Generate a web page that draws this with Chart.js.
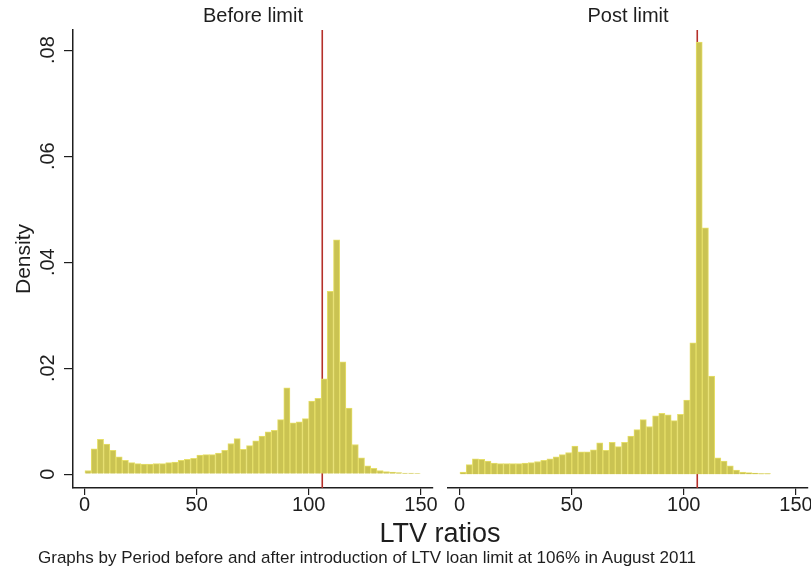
<!DOCTYPE html>
<html lang="en">
<head>
  <meta charset="UTF-8">
  <title>LTV ratios before and after the loan limit</title>
  <style>
    body {
      margin: 0;
      background: #fff;
      font-family: 'Liberation Sans', Arial, sans-serif;
      color: #1e1e1e;
    }
    .wrap {
      position: relative;
      width: 811px;
      height: 571px;
      overflow: hidden;
    }
    #beforeChart { position: absolute; left: 0; top: 0; }
    #postChart { position: absolute; left: 441px; top: 0; }
    .x-title {
      position: absolute;
      left: 0;
      width: 880px;
      top: 518px;
      line-height: 30px;
      text-align: center;
      font-size: 27px;
    }
    .note {
      position: absolute;
      left: 38px;
      top: 548px;
      line-height: 19px;
      font-size: 17px;
    }
  </style>
  <script src="https://cdn.jsdelivr.net/npm/chart.js"></script>
</head>
<body>
  <div class="wrap">
    <canvas id="beforeChart" width="441" height="530"></canvas>
    <canvas id="postChart" width="370" height="530"></canvas>
    <div class="x-title">LTV ratios</div>
    <div class="note">Graphs by Period before and after introduction of LTV loan limit at 106% in August 2011</div>
  </div>

  <script>
    // histogram bins (LTV %), same bins for both periods
    const binStart = 0.2;
    const binWidth = 2.77;

    const beforeDensity = [
      0.0007, 0.0048, 0.0066, 0.0057, 0.0045, 0.0033, 0.0026, 0.0022, 0.0020, 0.0019,
      0.0019, 0.0020, 0.0020, 0.0022, 0.0023, 0.0026, 0.0028, 0.0030, 0.0036, 0.0037,
      0.0037, 0.0040, 0.0045, 0.0058, 0.0067, 0.0047, 0.0054, 0.0063, 0.0072, 0.0080,
      0.0083, 0.0103, 0.0163, 0.0097, 0.0099, 0.0105, 0.0138, 0.0143, 0.0180, 0.0345,
      0.0442, 0.0212, 0.0125, 0.0056, 0.0031, 0.0016, 0.0011, 0.0007, 0.0005, 0.0004,
      0.0003, 0.0002, 0.0002, 0.0001
    ];

    const postDensity = [
      0.0004, 0.0018, 0.0029, 0.0028, 0.0025, 0.0021, 0.0020, 0.0020, 0.0020, 0.0020,
      0.0021, 0.0022, 0.0024, 0.0026, 0.0029, 0.0033, 0.0037, 0.0041, 0.0053, 0.0042,
      0.0042, 0.0046, 0.0059, 0.0045, 0.0060, 0.0052, 0.0060, 0.0072, 0.0084, 0.0103,
      0.0090, 0.0110, 0.0115, 0.0112, 0.0101, 0.0113, 0.0140, 0.0248, 0.0815, 0.0465,
      0.0185, 0.0031, 0.0025, 0.0016, 0.0008, 0.0004, 0.0003, 0.0002, 0.0001, 0.0001,
      0, 0, 0, 0
    ];

    const xTicks = [0, 50, 100, 150];
    const yTicks = [0, 0.02, 0.04, 0.06, 0.08];
    const yTickLabels = ['0', '.02', '.04', '.06', '.08'];
    const ltvLimit = 106;

    const FONT = "'Liberation Sans', Arial, sans-serif";
    const INK = '#1e1e1e';

    function toPoints(density) {
      return density.map((d, i) => ({ x: binStart + binWidth * (i + 0.5), y: d }));
    }

    // limit line behind the bars, panel title and rotated y labels on top
    const panelDecor = {
      id: 'panelDecor',
      beforeDatasetsDraw(chart) {
        const { ctx, chartArea, scales } = chart;
        const x = scales.x.getPixelForValue(ltvLimit);
        ctx.save();
        ctx.strokeStyle = '#b5302a';
        ctx.lineWidth = 1.6;
        ctx.beginPath();
        ctx.moveTo(x, chartArea.top);
        ctx.lineTo(x, chartArea.bottom);
        ctx.stroke();
        ctx.restore();
      },
      afterDraw(chart, args, opts) {
        const { ctx, chartArea, scales } = chart;
        ctx.save();
        ctx.fillStyle = INK;
        ctx.font = '20px ' + FONT;
        ctx.textAlign = 'center';
        ctx.textBaseline = 'middle';
        ctx.fillText(opts.title, (chartArea.left + chartArea.right) / 2, 16);

        if (opts.yLabels) {
          yTicks.forEach((v, i) => {
            const y = scales.y.getPixelForValue(v);
            ctx.save();
            ctx.translate(48, y);
            ctx.rotate(-Math.PI / 2);
            ctx.fillText(yTickLabels[i], 0, 0);
            ctx.restore();
          });
        }
        ctx.restore();
      }
    };

    function makeChart(id, title, density, showY) {
      const ctx = document.getElementById(id).getContext('2d');
      return new Chart(ctx, {
        type: 'bar',
        data: {
          datasets: [{
            data: toPoints(density),
            backgroundColor: '#cac352',
            borderColor: '#e6df68',
            borderWidth: 1,
            barPercentage: 1,
            categoryPercentage: 1
          }]
        },
        options: {
          responsive: false,
          animation: false,
          layout: {
            padding: showY
              ? { top: 30, left: 0, right: 8, bottom: 0 }
              : { top: 30, left: 7, right: 3, bottom: 0 }
          },
          scales: {
            x: {
              type: 'linear',
              min: -5.13,
              max: 155.37,
              offset: false,
              afterBuildTicks: axis => { axis.ticks = xTicks.map(v => ({ value: v })); },
              afterFit: axis => { axis.height = 42; },
              grid: {
                offset: false,
                drawOnChartArea: false,
                drawTicks: true,
                tickLength: 7,
                color: INK,
                lineWidth: 1.2
              },
              border: { display: true, color: INK, width: 1.5 },
              ticks: {
                maxRotation: 0,
                padding: -2,
                color: INK,
                font: { size: 20, family: FONT },
                callback: v => String(v)
              }
            },
            y: {
              display: showY,
              min: -0.0026,
              max: 0.0838,
              afterBuildTicks: axis => { axis.ticks = yTicks.map(v => ({ value: v })); },
              afterFit: axis => { axis.width = showY ? 73 : 0; },
              grid: {
                drawOnChartArea: false,
                drawTicks: true,
                tickLength: 9,
                color: INK,
                lineWidth: 1.2
              },
              border: { display: true, color: INK, width: 1.5 },
              ticks: { display: false },
              title: {
                display: true,
                text: 'Density',
                color: INK,
                font: { size: 21, family: FONT },
                padding: { top: 12, bottom: 0 }
              }
            }
          },
          plugins: {
            legend: { display: false },
            tooltip: { enabled: false },
            panelDecor: { title: title, yLabels: showY }
          }
        },
        plugins: [panelDecor]
      });
    }

    makeChart('beforeChart', 'Before limit', beforeDensity, true);
    makeChart('postChart', 'Post limit', postDensity, false);
  </script>
</body>
</html>
